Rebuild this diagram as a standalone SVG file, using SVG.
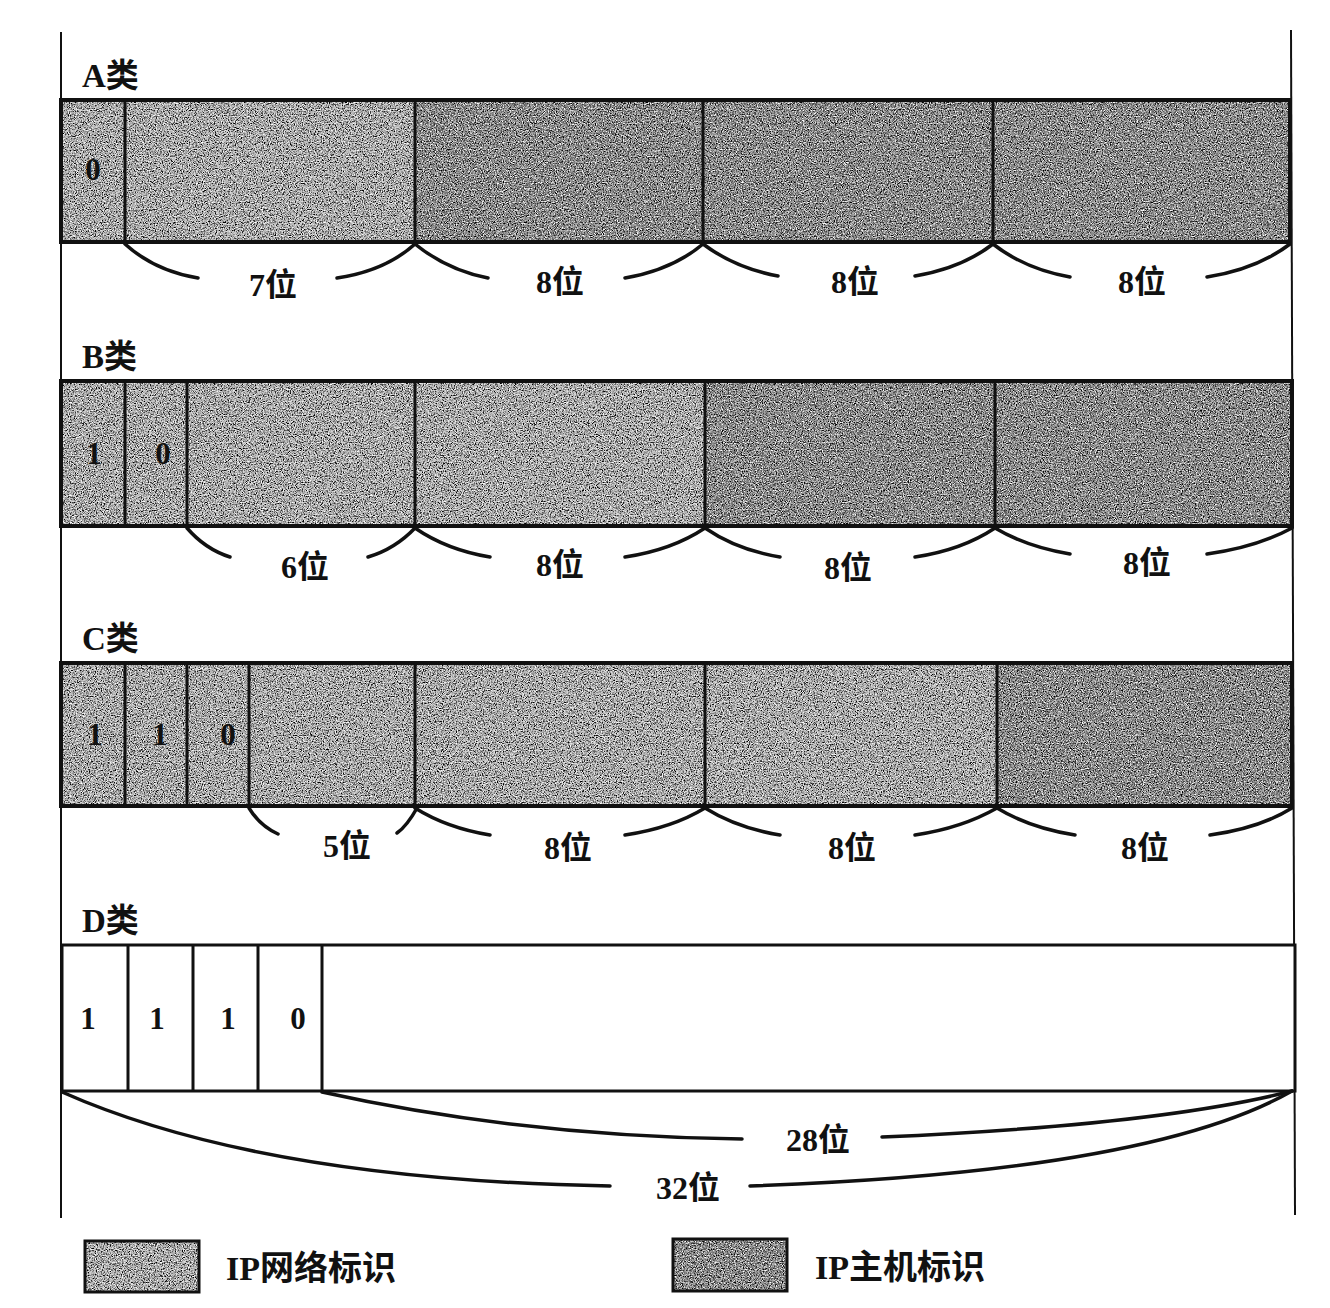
<svg xmlns="http://www.w3.org/2000/svg" width="1330" height="1308" viewBox="0 0 1330 1308">
<style>
  .lbl{font-family:"Liberation Serif","Noto Sans CJK SC",serif;font-weight:bold;fill:#111}
  .cls{font-size:33px}
  .bit{font-size:31px;text-anchor:middle}
  .len{font-size:32px;text-anchor:middle}
  .leg{font-size:34px}
  .net{fill:#b3b3b3}
  .host{fill:#8e8e8e}
  .frame{fill:none;stroke:#111;stroke-width:4}
  .div{stroke:#111;stroke-width:3;fill:none}
  .brace{fill:none;stroke:#111;stroke-width:3.5;stroke-linecap:round}
  .guide{stroke:#111;stroke-width:2;fill:none}
</style>
<defs>
  <filter id="grain" x="0" y="0" width="1" height="1" color-interpolation-filters="sRGB">
    <feTurbulence type="fractalNoise" baseFrequency="0.85" numOctaves="3" seed="4" result="n"/>
    <feColorMatrix in="n" type="matrix" values="0.33 0.33 0.33 0 0  0.33 0.33 0.33 0 0  0.33 0.33 0.33 0 0  0 0 0 0 1" result="g"/>
    <feComponentTransfer in="g" result="c">
      <feFuncR type="linear" slope="3" intercept="-1"/>
      <feFuncG type="linear" slope="3" intercept="-1"/>
      <feFuncB type="linear" slope="3" intercept="-1"/>
    </feComponentTransfer>
    <feBlend in="SourceGraphic" in2="c" mode="overlay" result="b"/>
    <feComposite in="b" in2="SourceGraphic" operator="in"/>
  </filter>
</defs>
<rect width="1330" height="1308" fill="#fff"/>

<g id="guides">
  <line class="guide" x1="61" y1="32" x2="61" y2="1218"/>
  <line class="guide" x1="1291" y1="30" x2="1295" y2="1215"/>
</g>

<g id="classA">
  <text class="lbl cls" x="82" y="87">A类</text>
  <g filter="url(#grain)">
    <rect class="net" x="61" y="100" width="354" height="142"/>
    <rect class="host" x="415" y="100" width="875" height="142"/>
  </g>
  <rect class="frame" x="61" y="100" width="1229" height="142"/>
  <path class="div" d="M125 100V242M415 100V242M703 100V242M993 100V242"/>
  <text class="lbl bit" x="93" y="180">0</text>
</g>

<g id="classB">
  <text class="lbl cls" x="82" y="368">B类</text>
  <g filter="url(#grain)">
    <rect class="net" x="61" y="381" width="644" height="145"/>
    <rect class="host" x="705" y="381" width="587" height="145"/>
  </g>
  <rect class="frame" x="61" y="381" width="1231" height="145"/>
  <path class="div" d="M125 381V526M187 381V526M415 381V526M705 381V526M995 381V526"/>
  <text class="lbl bit" x="94" y="464">1</text>
  <text class="lbl bit" x="163" y="464">0</text>
</g>

<g id="classC">
  <text class="lbl cls" x="82" y="650">C类</text>
  <g filter="url(#grain)">
    <rect class="net" x="61" y="663" width="936" height="143"/>
    <rect class="host" x="997" y="663" width="295" height="143"/>
  </g>
  <rect class="frame" x="61" y="663" width="1231" height="143"/>
  <path class="div" d="M125 663V806M187 663V806M249 663V806M415 663V806M705 663V806M997 663V806"/>
  <text class="lbl bit" x="95" y="745">1</text>
  <text class="lbl bit" x="160" y="745">1</text>
  <text class="lbl bit" x="228" y="745">0</text>
</g>

<g id="classD">
  <text class="lbl cls" x="82" y="932">D类</text>
  <rect x="62" y="945" width="1233" height="146" fill="#fff" stroke="#111" stroke-width="3"/>
  <path class="div" d="M128 945V1091M193 945V1091M258 945V1091M322 945V1091"/>
  <text class="lbl bit" x="88" y="1029">1</text>
  <text class="lbl bit" x="157" y="1029">1</text>
  <text class="lbl bit" x="228" y="1029">1</text>
  <text class="lbl bit" x="298" y="1029">0</text>
</g>

<g id="connectors">
  <!-- A -->
  <path class="brace" d="M125 244Q155 271 198 278M337 278Q385 271 415 244"/>
  <path class="brace" d="M415 244Q447 270 488 278M625 278Q672 270 703 244"/>
  <path class="brace" d="M703 244Q735 268 778 276M915 276Q962 268 993 244"/>
  <path class="brace" d="M993 244Q1025 269 1070 277M1207 277Q1257 269 1290 244"/>
  <!-- B -->
  <path class="brace" d="M187 528Q205 549 230 557M368 557Q395 549 415 528"/>
  <path class="brace" d="M415 528Q447 550 490 557M625 557Q672 550 705 528"/>
  <path class="brace" d="M705 528Q737 550 780 557M915 557Q962 550 995 528"/>
  <path class="brace" d="M995 528Q1027 547 1070 554M1207 554Q1257 547 1292 528"/>
  <!-- C -->
  <path class="brace" d="M249 808Q260 826 278 834M397 833Q407 826 417 808"/>
  <path class="brace" d="M415 808Q447 828 490 835M625 835Q672 828 705 808"/>
  <path class="brace" d="M705 808Q737 828 780 835M915 835Q962 828 997 808"/>
  <path class="brace" d="M997 808Q1030 828 1075 835M1210 835Q1260 828 1292 808"/>
  <!-- D -->
  <path class="brace" d="M322 1092Q520 1136 742 1139M882 1137Q1160 1125 1292 1091"/>
  <path class="brace" d="M62 1092Q260 1180 610 1186M750 1186Q1150 1172 1292 1091"/>
</g>

<g id="lengths">
  <text class="lbl len" x="273" y="296">7位</text>
  <text class="lbl len" x="560" y="293">8位</text>
  <text class="lbl len" x="855" y="293">8位</text>
  <text class="lbl len" x="1142" y="293">8位</text>
  <text class="lbl len" x="305" y="578">6位</text>
  <text class="lbl len" x="560" y="576">8位</text>
  <text class="lbl len" x="848" y="579">8位</text>
  <text class="lbl len" x="1147" y="574">8位</text>
  <text class="lbl len" x="347" y="857">5位</text>
  <text class="lbl len" x="568" y="859">8位</text>
  <text class="lbl len" x="852" y="859">8位</text>
  <text class="lbl len" x="1145" y="859">8位</text>
  <text class="lbl len" x="818" y="1151">28位</text>
  <text class="lbl len" x="688" y="1199">32位</text>
</g>

<g id="legend">
  <g filter="url(#grain)">
    <rect class="net" x="85" y="1241" width="114" height="51"/>
    <rect class="host" x="673" y="1239" width="114" height="52"/>
  </g>
  <rect x="85" y="1241" width="114" height="51" fill="none" stroke="#111" stroke-width="3"/>
  <rect x="673" y="1239" width="114" height="52" fill="none" stroke="#111" stroke-width="3"/>
  <text class="lbl leg" x="226" y="1280">IP网络标识</text>
  <text class="lbl leg" x="815" y="1279">IP主机标识</text>
</g>
</svg>
